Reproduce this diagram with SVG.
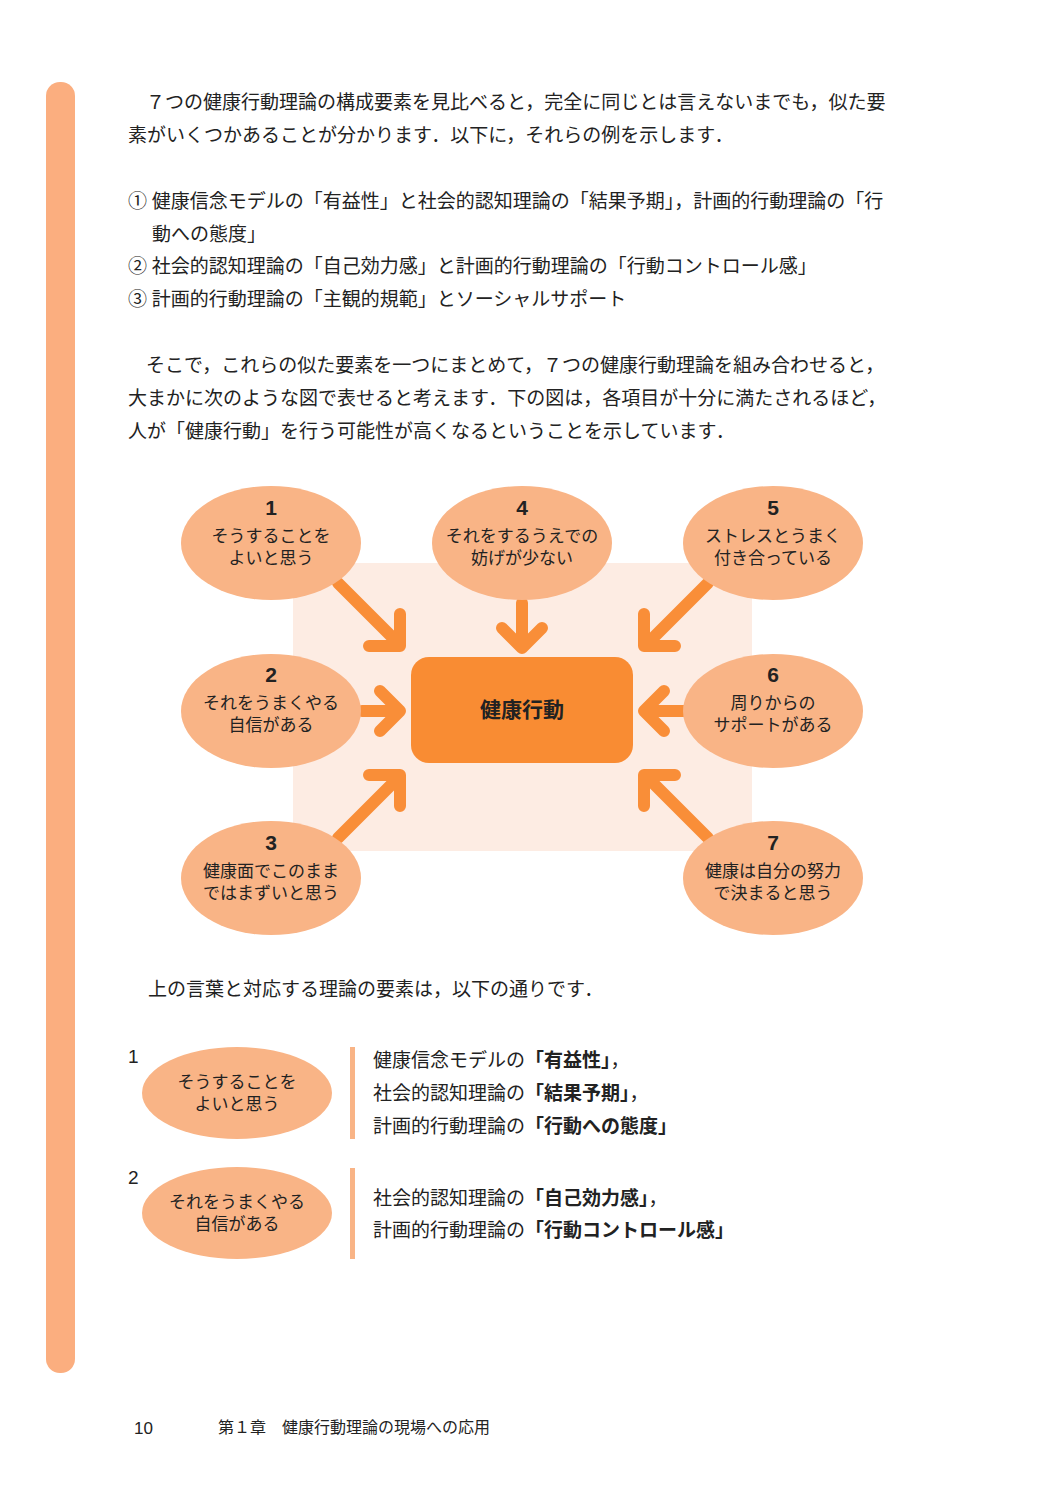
<svg xmlns="http://www.w3.org/2000/svg" width="1063" height="1500" viewBox="0 0 1063 1500">
<style>
.b{font-family:"Liberation Serif","Noto Sans CJK JP",serif;font-size:19px;fill:#222}
.s{font-family:"Noto Sans CJK JP",sans-serif;font-size:17px;fill:#222;text-anchor:middle}
.n{font-family:"Liberation Sans","Noto Sans CJK JP",sans-serif;font-size:21px;font-weight:bold;fill:#222;text-anchor:middle}
.k{font-family:"Noto Sans CJK JP",sans-serif;font-weight:bold}
.e{fill:#F9B486}
.a{stroke:#F98E38;stroke-width:12;fill:none;stroke-linecap:round;stroke-linejoin:round}
</style>
<rect width="1063" height="1500" fill="#fff"/>
<rect x="46" y="82" width="29" height="1291" rx="14" fill="#FBAE7F"/>
<text class="b" x="146" y="109">７つの健康行動理論の構成要素を見比べると，完全に同じとは言えないまでも，似た要</text>
<text class="b" x="128" y="142">素がいくつかあることが分かります．以下に，それらの例を示します．</text>
<text class="b" x="128" y="208">① 健康信念モデルの「有益性」と社会的認知理論の「結果予期」，計画的行動理論の「行</text>
<text class="b" x="152" y="241">動への態度」</text>
<text class="b" x="128" y="273">② 社会的認知理論の「自己効力感」と計画的行動理論の「行動コントロール感」</text>
<text class="b" x="128" y="306">③ 計画的行動理論の「主観的規範」とソーシャルサポート</text>
<text class="b" x="146" y="372">そこで，これらの似た要素を一つにまとめて，７つの健康行動理論を組み合わせると，</text>
<text class="b" x="128" y="405">大まかに次のような図で表せると考えます．下の図は，各項目が十分に満たされるほど，</text>
<text class="b" x="128" y="438">人が「健康行動」を行う可能性が高くなるということを示しています．</text>
<rect x="293" y="563" width="459" height="288" fill="#FDECE3"/>
<g id="connectors">
<path class="a" d="M338 583L396 641M400 614V646H369"/>
<path class="a" d="M522 603V644M502 628L522 648L542 628"/>
<path class="a" d="M708 583L650 641M644 614V646H675"/>
<path class="a" d="M362 711H396M380 691L400 711L380 731"/>
<path class="a" d="M684 711H648M664 691L644 711L664 731"/>
<path class="a" d="M338 838L396 780M400 806V775H369"/>
<path class="a" d="M708 838L650 780M644 806V775H675"/>
</g>
<g id="center"><rect x="411" y="657" width="222" height="106" rx="18" fill="#F98C33"/>
<text class="s k" x="522" y="717" style="font-size:21px">健康行動</text></g>
<g id="n1"><ellipse class="e" cx="271" cy="543" rx="90" ry="57"/><text class="n" x="271" y="515">1</text><text class="s" x="271" y="542">そうすることを</text><text class="s" x="271" y="564">よいと思う</text></g>
<g id="n4"><ellipse class="e" cx="522" cy="543" rx="90" ry="57"/><text class="n" x="522" y="515">4</text><text class="s" x="522" y="542">それをするうえでの</text><text class="s" x="522" y="564">妨げが少ない</text></g>
<g id="n5"><ellipse class="e" cx="773" cy="543" rx="90" ry="57"/><text class="n" x="773" y="515">5</text><text class="s" x="773" y="542">ストレスとうまく</text><text class="s" x="773" y="564">付き合っている</text></g>
<g id="n2"><ellipse class="e" cx="271" cy="711" rx="90" ry="57"/><text class="n" x="271" y="682">2</text><text class="s" x="271" y="709">それをうまくやる</text><text class="s" x="271" y="731">自信がある</text></g>
<g id="n6"><ellipse class="e" cx="773" cy="711" rx="90" ry="57"/><text class="n" x="773" y="682">6</text><text class="s" x="773" y="709">周りからの</text><text class="s" x="773" y="731">サポートがある</text></g>
<g id="n3"><ellipse class="e" cx="271" cy="878" rx="90" ry="57"/><text class="n" x="271" y="850">3</text><text class="s" x="271" y="877">健康面でこのまま</text><text class="s" x="271" y="899">ではまずいと思う</text></g>
<g id="n7"><ellipse class="e" cx="773" cy="878" rx="90" ry="57"/><text class="n" x="773" y="850">7</text><text class="s" x="773" y="877">健康は自分の努力</text><text class="s" x="773" y="899">で決まると思う</text></g>
<text class="b" x="148" y="996">上の言葉と対応する理論の要素は，以下の通りです．</text>
<g id="l1"><text class="b" x="128" y="1063" style="font-family:'Liberation Sans',sans-serif">1</text>
<ellipse class="e" cx="237" cy="1093" rx="95" ry="46"/><text class="s" x="237" y="1088">そうすることを</text><text class="s" x="237" y="1110">よいと思う</text>
<rect x="350" y="1047" width="5" height="92" fill="#F9B486"/>
<text class="b" x="373" y="1067">健康信念モデルの<tspan class="k">「有益性」</tspan>，</text>
<text class="b" x="373" y="1100">社会的認知理論の<tspan class="k">「結果予期」</tspan>，</text>
<text class="b" x="373" y="1133">計画的行動理論の<tspan class="k">「行動への態度」</tspan></text></g>
<g id="l2"><text class="b" x="128" y="1184" style="font-family:'Liberation Sans',sans-serif">2</text>
<ellipse class="e" cx="237" cy="1213" rx="95" ry="46"/><text class="s" x="237" y="1208">それをうまくやる</text><text class="s" x="237" y="1230">自信がある</text>
<rect x="350" y="1168" width="5" height="91" fill="#F9B486"/>
<text class="b" x="373" y="1205">社会的認知理論の<tspan class="k">「自己効力感」</tspan>，</text>
<text class="b" x="373" y="1237">計画的行動理論の<tspan class="k">「行動コントロール感」</tspan></text></g>
<text x="134" y="1434" style="font-family:'Liberation Sans',sans-serif;font-size:17px;fill:#222">10</text>
<text x="218" y="1433" style="font-family:'Noto Sans CJK JP',sans-serif;font-size:16px;fill:#222">第１章　健康行動理論の現場への応用</text>
</svg>
